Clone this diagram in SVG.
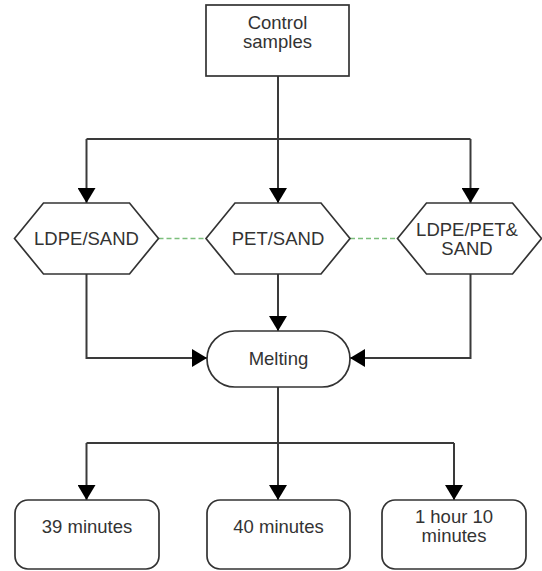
<svg xmlns="http://www.w3.org/2000/svg" width="542" height="571" viewBox="0 0 542 571">
<style>
.shape{fill:#fff;stroke:#333;stroke-width:1.7}
.conn{fill:none;stroke:#3a3a3a;stroke-width:2}
.dash{fill:none;stroke:#7cbf7c;stroke-width:1.5;stroke-dasharray:5 3}
.t{font-family:"Liberation Sans",Arial,sans-serif;font-size:18.5px;fill:#333;text-anchor:middle}
</style>
<defs>
<marker id="arr" viewBox="0 0 15 18" refX="15" refY="9" markerWidth="15" markerHeight="18" markerUnits="userSpaceOnUse" orient="auto">
<path d="M0,0 L15,9 L0,18 z" fill="#000"/>
</marker>
</defs>
<rect width="542" height="571" fill="#fff"/>
<g id="connectors">
<path class="conn" d="M278 76 V139"/>
<path class="conn" d="M86.5 139 H470.5"/>
<path class="conn" d="M86.5 139 V203" marker-end="url(#arr)"/>
<path class="conn" d="M278 139 V203" marker-end="url(#arr)"/>
<path class="conn" d="M470.5 139 V203" marker-end="url(#arr)"/>
<path class="conn" d="M86.5 274 V358 H207" marker-end="url(#arr)"/>
<path class="conn" d="M278 274 V331" marker-end="url(#arr)"/>
<path class="conn" d="M470.5 274 V358 H350" marker-end="url(#arr)"/>
<path class="conn" d="M278 387 V443"/>
<path class="conn" d="M86.5 443 H454"/>
<path class="conn" d="M86.5 443 V500" marker-end="url(#arr)"/>
<path class="conn" d="M278 443 V500" marker-end="url(#arr)"/>
<path class="conn" d="M454 443 V500" marker-end="url(#arr)"/>
<path class="dash" d="M158.5 238.5 H206"/>
<path class="dash" d="M350 238.5 H397.5"/>
</g>
<g id="control">
<rect class="shape" x="206" y="5" width="143" height="71"/>
<text class="t" x="277.5" y="29">Control</text>
<text class="t" x="277.5" y="48">samples</text>
</g>
<g id="ldpe-sand">
<polygon class="shape" points="14.5,238.5 43.5,203 129.5,203 158.5,238.5 129.5,274 43.5,274"/>
<text class="t" x="86.5" y="245">LDPE/SAND</text>
</g>
<g id="pet-sand">
<polygon class="shape" points="206,238.5 235,203 321,203 350,238.5 321,274 235,274"/>
<text class="t" x="278" y="245">PET/SAND</text>
</g>
<g id="ldpe-pet-sand">
<polygon class="shape" points="397.5,238.5 426.5,203 512.5,203 541.5,238.5 512.5,274 426.5,274"/>
<text class="t" x="467" y="236">LDPE/PET&amp;</text>
<text class="t" x="467" y="255">SAND</text>
</g>
<g id="melting">
<rect class="shape" x="207" y="331" width="143" height="56" rx="28" ry="28"/>
<text class="t" x="278.5" y="365">Melting</text>
</g>
<g id="t39">
<rect class="shape" x="15" y="500" width="144" height="69" rx="13" ry="13"/>
<text class="t" x="87" y="532.5">39 minutes</text>
</g>
<g id="t40">
<rect class="shape" x="207" y="500" width="143" height="69" rx="13" ry="13"/>
<text class="t" x="278.5" y="532.5">40 minutes</text>
</g>
<g id="t70">
<rect class="shape" x="382" y="500" width="144" height="69" rx="13" ry="13"/>
<text class="t" x="454" y="522.5">1 hour 10</text>
<text class="t" x="454" y="541.5">minutes</text>
</g>
</svg>
